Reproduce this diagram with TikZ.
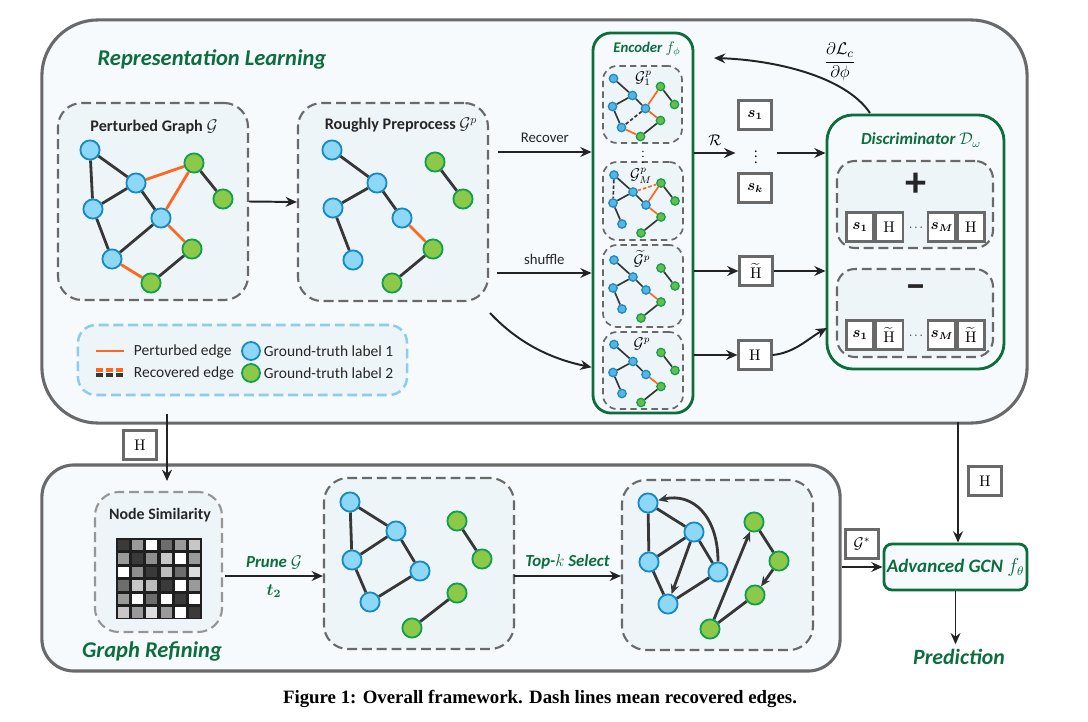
\documentclass[tikz,border=0pt]{standalone}
\usepackage[no-math]{fontspec}
\usepackage{amsmath}
\setmainfont{Carlito}
\newfontfamily\capfont{Liberation Serif}
\usetikzlibrary{arrows.meta, positioning}

\definecolor{rlgreen}{RGB}{12,110,60}
\definecolor{pertorange}{RGB}{255,102,30}
\definecolor{edgegray}{RGB}{55,55,55}
\definecolor{boxgray}{RGB}{105,105,105}
\definecolor{arrowblack}{RGB}{35,35,35}
\definecolor{panelfill}{RGB}{246,250,253}
\definecolor{subfill}{RGB}{238,245,249}
\definecolor{blfill}{RGB}{140,216,246}
\definecolor{bldraw}{RGB}{24,138,196}
\definecolor{grfill}{RGB}{140,201,72}
\definecolor{grdraw}{RGB}{18,160,80}
\definecolor{legendblue}{RGB}{140,205,235}

\tikzset{
  panel/.style={draw=boxgray, line width=2.2pt, fill=panelfill, inner sep=0pt},
  dbox/.style={draw=boxgray, line width=1.5pt, dash pattern=on 7pt off 3.5pt, fill=subfill, rounded corners=0.6cm, inner sep=0pt},
  sdbox/.style={dbox, line width=1.2pt, dash pattern=on 4.5pt off 3pt, rounded corners=0.35cm},
  gbox/.style={draw=rlgreen, line width=2pt, fill=panelfill, inner sep=0pt},
  vbox/.style={draw=boxgray, line width=1.5pt, fill=white, minimum width=0.825cm, minimum height=0.725cm, inner sep=0pt, font=\fontsize{10.5}{12}\selectfont},
  cell/.style={vbox, minimum width=0.675cm},
  bn/.style={circle, draw=bldraw, fill=blfill, line width=1.3pt, minimum size=0.48cm, inner sep=0pt},
  gn/.style={bn, draw=grdraw, fill=grfill},
  sbn/.style={circle, draw=bldraw, fill=blfill!55!bldraw, line width=0.9pt, minimum size=0.21cm, inner sep=0pt},
  sgn/.style={sbn, draw=grdraw, fill=grfill!70!grdraw},
  gedge/.style={draw=edgegray, line width=2pt},
  pedge/.style={gedge, draw=pertorange},
  sedge/.style={draw=edgegray, line width=1.2pt},
  dedge/.style={gedge, -{Stealth[length=7pt,width=6pt]}},
  arr/.style={draw=arrowblack, line width=1.4pt, -{Stealth[length=8pt,width=7pt]}},
  ttl/.style={text=rlgreen, font=\bfseries\itshape\fontsize{16}{18}\selectfont},
  gttl/.style={text=rlgreen, font=\bfseries\itshape\fontsize{10.5}{12}\selectfont},
  btxt/.style={text=black!85, font=\bfseries\fontsize{11.5}{13}\selectfont},
  stxt/.style={text=black!85, font=\fontsize{11}{13}\selectfont},
  mlbl/.style={font=\fontsize{10.5}{12}\selectfont},
}

% small graph inside an encoder box: #1 = name of the box
\newcommand{\minigraph}[1]{%
  \foreach \nm/\dx/\dy in {p1/-29/-26, p2/-10/-9, p3/-30/2, p4/3/4, p5/-21/23}
    \node[sbn] (#1\nm) at ([shift={(\dx,\dy)}]#1) {};
  \foreach \nm/\dx/\dy in {q1/18/-18, q2/32/0, q3/18/16, q4/-2/32}
    \node[sgn] (#1\nm) at ([shift={(\dx,\dy)}]#1) {};
  \draw[sedge] (#1p1) -- (#1p2) (#1p2) -- (#1p3) (#1p2) -- (#1p4) (#1p3) -- (#1p5)
               (#1q1) -- (#1q2) (#1q3) -- (#1q4);
  \draw[sedge, draw=pertorange] (#1p4) -- (#1q3);
}

\begin{document}
\begin{tikzpicture}[x=0.025cm, y=-0.025cm]
\useasboundingbox (0,0) rectangle (1088,722);

% panels
\node[panel, rounded corners=1.4cm, minimum width=24.625cm, minimum height=10.075cm] (rl) at (534.5,221.5) {};
\node[panel, rounded corners=0.8cm, minimum width=19.95cm, minimum height=5.15cm] (gr) at (441,568) {};
\node[ttl] (rltitle) at (212,59) {Representation Learning};
\node[ttl] (grtitle) at (152,651) {Graph Refining};

% perturbed graph
\node[dbox, minimum width=4.75cm, minimum height=4.925cm] (pg) at (153,201.5) {};
\node[btxt] (pgtitle) at (154,127) {Perturbed Graph $\mathcal{G}$};
\node[bn] (a1) at (90,150) {};
\node[bn] (a2) at (136,183) {};
\node[bn] (a3) at (93,209) {};
\node[bn] (a4) at (161,218) {};
\node[bn] (a5) at (112,259) {};
\node[gn] (g1) at (194,163) {};
\node[gn] (g2) at (223,199) {};
\node[gn] (g3) at (192,249) {};
\node[gn] (g4) at (151,283) {};
\draw[gedge] (a1) -- (a2) (a1) -- (a3) (a2) -- (a3) (a2) -- (a4) (a3) -- (a5) (a4) -- (a5)
             (g1) -- (g2) (g3) -- (g4);
\draw[pedge] (a2) -- (g1) (a4) -- (g1) (a4) -- (g3) (a5) -- (g4);

% roughly preprocessed graph
\node[dbox, minimum width=4.75cm, minimum height=4.95cm] (rp) at (393,202) {};
\node[btxt] (rptitle) at (401,125) {Roughly Preprocess $\mathcal{G}^p$};
\node[bn] (b1) at (332,150) {};
\node[bn] (b2) at (377,183) {};
\node[bn] (b3) at (333,208) {};
\node[bn] (b4) at (402,218) {};
\node[bn] (b5) at (353,260) {};
\node[gn] (c1) at (435,162) {};
\node[gn] (c2) at (463,199) {};
\node[gn] (c3) at (433,249) {};
\node[gn] (c4) at (392,283) {};
\draw[gedge] (b1) -- (b2) (b2) -- (b3) (b2) -- (b4) (b3) -- (b5) (c1) -- (c2) (c3) -- (c4);
\draw[pedge] (b4) -- (c3);
\draw[arr] (pg.east) -- (rp.west);

% legend
\node[dbox, draw=legendblue, line width=1.8pt, rounded corners=0.45cm, minimum width=8.225cm, minimum height=1.75cm] (leg) at (242.5,360) {};
\draw[pedge] (96,351) -- (124,351);
\draw[pedge, line width=2.4pt, dash pattern=on 5pt off 2pt] (96,370) -- (124,370);
\draw[gedge, line width=2.4pt, dash pattern=on 5pt off 2pt] (96,375) -- (124,375);
\node[stxt, anchor=west] (legpe) at (129,351) {Perturbed edge};
\node[stxt, anchor=west] (legre) at (129,373) {Recovered edge};
\node[bn, minimum size=0.45cm] (legb) at (251,351) {};
\node[gn, minimum size=0.45cm] (legg) at (251,373) {};
\node[stxt, anchor=west] (legl1) at (259,351) {Ground-truth label 1};
\node[stxt, anchor=west] (legl2) at (259,373) {Ground-truth label 2};

% encoder
\node[gbox, rounded corners=0.45cm, minimum width=2.5cm, minimum height=9.5cm] (enc) at (643,223) {};
\node[gttl] (enctitle) at (647,49) {Encoder $f_\phi$};
\node[sdbox, minimum width=1.975cm, minimum height=1.925cm] (e1) at (642.5,104.5) {};
\node[sdbox, minimum width=2cm, minimum height=1.95cm] (eM) at (643,201) {};
\node[sdbox, minimum width=2cm, minimum height=2.05cm] (eT) at (643,286) {};
\node[sdbox, minimum width=2cm, minimum height=1.925cm] (eP) at (643,370.5) {};
\node[inner sep=0pt, font=\fontsize{8}{9}\selectfont] (edots) at (643,153) {$\vdots$};
\minigraph{e1}
\minigraph{eM}
\minigraph{eT}
\minigraph{eP}
\draw[sedge, draw=pertorange] (e1p4) -- (e1q1) (e1p5) -- (e1q4);
\draw[sedge, dash pattern=on 2.5pt off 1.5pt] (e1p4) -- (e1p5);
\draw[sedge, draw=pertorange] (eMp4) -- (eMq1);
\draw[sedge, draw=pertorange, dash pattern=on 2.5pt off 1.5pt] (eMp2) -- (eMq1);
\draw[sedge, dash pattern=on 2.5pt off 1.5pt] (eMp1) -- (eMp3);
\node[mlbl, inner sep=0pt] (e1lbl) at ([shift={(1,-26)}]e1) {$\mathcal{G}_1^p$};
\node[mlbl, inner sep=0pt] (eMlbl) at ([shift={(-2,-25)}]eM) {$\mathcal{G}_M^p$};
\node[mlbl, inner sep=0pt] (eTlbl) at ([shift={(-1,-27)}]eT) {$\widetilde{\mathcal{G}}^p$};
\node[mlbl, inner sep=0pt] (ePlbl) at ([shift={(-1,-27)}]eP) {$\mathcal{G}^p$};

% inputs of the encoder
\coordinate (recA) at (498,152);
\coordinate (shufA) at (497,273);
\coordinate (curA) at (490,313);
\draw[arr] (recA) -- node[stxt, font=\fontsize{10.5}{12}\selectfont, above=3pt] (reclbl) {Recover} (enc.west |- recA);
\draw[arr] (shufA) -- node[stxt, font=\fontsize{10.5}{12}\selectfont, above=2pt] (shuflbl) {shuffle} (enc.west |- shufA);
\draw[arr] (curA) .. controls +(30,32) and +(-38,-8) .. ([yshift=0.08cm]enc.west |- eP);

% summaries and embeddings
\node[vbox] (sbox1) at (755,115) {$\boldsymbol{s_1}$};
\node[inner sep=0pt] (sdots) at (756,153) {$\vdots$};
\node[vbox] (sboxk) at (755,188) {$\boldsymbol{s_k}$};
\node[vbox] (Ht) at (756,271) {$\widetilde{\mathrm{H}}$};
\node[vbox] (Hp) at (755,355) {$\mathrm{H}$};
\draw[arr] (enc.east |- sdots) -- node[above=1pt, mlbl] (rlbl) {$\mathcal{R}$} ([xshift=-0.05cm]sbox1.west |- sdots);
\draw[arr] (enc.east |- Ht) -- (Ht);
\draw[arr] (enc.east |- Hp) -- (Hp);

% discriminator
\node[gbox, rounded corners=0.65cm, minimum width=4.425cm, minimum height=6.35cm] (disc) at (915.5,242) {};
\node[gttl, font=\bfseries\itshape\fontsize{12}{14}\selectfont] (disctitle) at (921,140) {Discriminator $\mathcal{D}_\omega$};
\node[dbox, rounded corners=0.45cm, minimum width=3.9cm, minimum height=2.175cm] (posbox) at (915,204.5) {};
\node[dbox, rounded corners=0.45cm, minimum width=3.9cm, minimum height=2.2cm] (negbox) at (915,313) {};
\node[font=\bfseries\fontsize{30}{30}\selectfont, text=black!85] (plus) at (916,185) {+};
\node[font=\bfseries\fontsize{30}{30}\selectfont, text=black!85] (minus) at (916,292) {--};
\node[cell] (pc1) at (860,227) {$\boldsymbol{s_1}$};
\node[cell, right=0pt of pc1] (pc2) {$\mathrm{H}$};
\node[cell] (pc4) at (971,227) {$\mathrm{H}$};
\node[cell, left=0pt of pc4] (pc3) {$\boldsymbol{s_M}$};
\node[font=\fontsize{8}{9}\selectfont] (pdots) at (917,228) {$\cdots$};
\node[cell] (nc1) at (860,335) {$\boldsymbol{s_1}$};
\node[cell, right=0pt of nc1] (nc2) {$\widetilde{\mathrm{H}}$};
\node[cell] (nc4) at (971,335) {$\widetilde{\mathrm{H}}$};
\node[cell, left=0pt of nc4] (nc3) {$\boldsymbol{s_M}$};
\node[font=\fontsize{8}{9}\selectfont] (ndots) at (917,336) {$\cdots$};
\draw[arr] ([xshift=0.1cm]sbox1.east |- sdots) -- (disc.west |- sdots);
\draw[arr] (Ht) -- (disc.west |- Ht);
\coordinate (hin) at (827,328);
\draw[arr] (Hp.east) .. controls +(22,-2) and +(-18,10) .. (hin);

% gradient back to the encoder
\coordinate (gradA) at (870,113);
\coordinate (gradB) at (714,58);
\draw[arr] (gradA) .. controls +(-25,-37) and +(60,2) .. (gradB);
\node[font=\fontsize{12.5}{14}\selectfont] (gradlbl) at (840,62) {$\dfrac{\partial\mathcal{L}_c}{\partial\phi}$};

% from representation learning to graph refining
\coordinate (hA) at (167,414);
\coordinate (hB) at (167,481);
\draw[arr] (hA) -- (hB);
\node[vbox] (Hdown) at (140,445) {$\mathrm{H}$};

% node similarity
\node[dbox, draw=boxgray!70, minimum width=3.175cm, minimum height=3.5cm] (ns) at (158.5,562) {};
\node[btxt, font=\bfseries\fontsize{11.3}{13}\selectfont] (nstitle) at (160,515) {Node Similarity};
\fill[black!88] (116,538) rectangle (202,619);
\foreach \row [count=\i] in {{12,55,100,35,55,75},{55,12,50,75,100,55},{100,50,12,70,35,85},
                             {35,75,70,12,100,55},{55,100,35,100,12,100},{75,55,85,55,100,12}}
  \foreach \v [count=\j] in \row
    \fill[white!\v!black!88] ({103.2+14.33*\j},{526+13.5*\i}) rectangle ++(11.3,10.5);

% pruned graph
\node[dbox, minimum width=4.75cm, minimum height=4.275cm] (rg) at (419,563.5) {};
\node[bn] (r1) at (350,502) {};
\node[bn] (r2) at (396,531) {};
\node[bn] (r3) at (352,560) {};
\node[bn] (r4) at (420,571) {};
\node[bn] (r5) at (370,602) {};
\node[gn] (rq1) at (457,521) {};
\node[gn] (rq2) at (482,559) {};
\node[gn] (rq3) at (457,593) {};
\node[gn] (rq4) at (412,628) {};
\draw[gedge] (r1) -- (r2) (r1) -- (r3) (r2) -- (r3) (r2) -- (r4) (r3) -- (r5) (r4) -- (r5)
             (rq1) -- (rq2) (rq3) -- (rq4);
\coordinate (prA) at (225,576);
\draw[arr] (prA) -- node[ttl, font=\bfseries\itshape\fontsize{12}{14}\selectfont, above=1pt] (prunelbl) {Prune $\mathcal{G}$}
                    node[text=rlgreen, font=\fontsize{12}{14}\selectfont, below=2pt] (t2lbl) {$\boldsymbol{t_2}$} (prA -| rg.west);

% selected graph
\node[dbox, minimum width=4.775cm, minimum height=4.25cm] (fg) at (717.5,565) {};
\node[bn] (t1) at (648,503) {};
\node[bn] (t2) at (694,532) {};
\node[bn] (t3) at (649,562) {};
\node[bn] (t4) at (718,572) {};
\node[bn] (t5) at (668,604) {};
\node[gn] (u1) at (754,522) {};
\node[gn] (u2) at (779,561) {};
\node[gn] (u3) at (755,595) {};
\node[gn] (u4) at (710,629) {};
\draw[gedge] (t1) -- (t2) (t1) -- (t3) (t2) -- (t3) (t2) -- (t4) (t3) -- (t5) (t4) -- (t5)
             (u1) -- (u2) (u4) -- (u3);
\draw[dedge] (t2) -- (t5);
\draw[dedge] (u4) -- (u1);
\draw[dedge] (u2) -- (u3);
\draw[dedge] (t4.north) .. controls +(0,-45) and +(35,-8) .. (t1.15);
\coordinate (tkA) at (514,576);
\draw[arr] (tkA) -- node[ttl, font=\bfseries\itshape\fontsize{12}{14}\selectfont, above=1pt] (topklbl) {Top-$k$ Select} (tkA -| fg.west);

% advanced GCN and prediction
\node[gbox, rounded corners=0.2cm, minimum width=3.575cm, minimum height=1.15cm, text=rlgreen,
      font=\bfseries\itshape\fontsize{13.5}{15}\selectfont] (gcn) at (955.5,567) {Advanced GCN $f_\theta$};
\draw[arr] (gr.east |- gcn) -- (gcn.west);
\node[vbox] (Gstar) at (862,544) {$\mathcal{G}^*$};
\coordinate (hC) at (958,422);
\draw[arr] (hC) -- (hC |- gcn.north);
\node[vbox] (Hgcn) at (985,481) {$\mathrm{H}$};
\node[ttl, font=\bfseries\itshape\fontsize{15.5}{17}\selectfont] (pred) at (959,657) {Prediction};
\draw[arr] (gcn.south) -- (gcn.south |- pred.north);

% caption
\node[font=\capfont\bfseries\fontsize{13.4}{15}\selectfont] (caption) at (540,699) {Figure 1: Overall framework. Dash lines mean recovered edges.};
\end{tikzpicture}
\end{document}
